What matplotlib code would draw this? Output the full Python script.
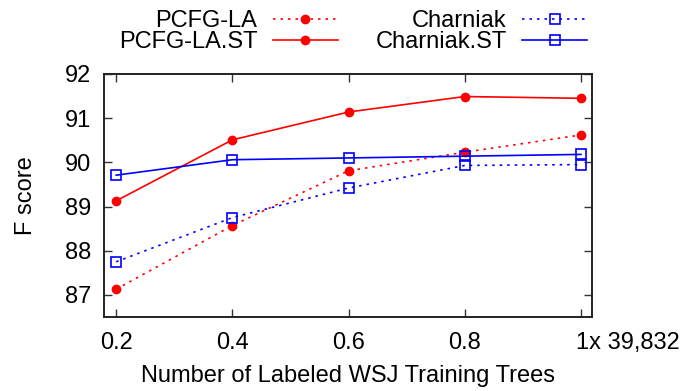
import matplotlib
matplotlib.use('Agg')
import matplotlib.pyplot as plt
import matplotlib.transforms as mtransforms

plt.rcParams['font.family'] = ['Liberation Sans', 'DejaVu Sans']

fraction = [0.2, 0.4, 0.6, 0.8, 1.0]
pcfg_la = [87.13, 88.57, 89.81, 90.23, 90.62]
pcfg_la_st = [89.13, 90.51, 91.14, 91.49, 91.45]
charniak = [87.75, 88.75, 89.42, 89.93, 89.95]
charniak_st = [89.71, 90.06, 90.10, 90.14, 90.18]
xtick_labels = ['0.2', '0.4', '0.6', '0.8', '1x 39,832']
yticks = [87, 88, 89, 90, 91, 92]

fs = 17

fig = plt.figure(figsize=(6.84, 3.91), dpi=100)
ax = fig.add_axes([104 / 684, 1 - 317 / 391, 488 / 684, 243 / 391])

dot = (0, (1.5, 3))
ax.plot(fraction, pcfg_la, color='red', ls=dot, lw=1.2, marker='o', ms=6,
        label='PCFG-LA')
ax.plot(fraction, pcfg_la_st, color='red', ls='-', lw=1.2, marker='o', ms=6,
        label='PCFG-LA.ST')
ax.plot(fraction, charniak, color='blue', ls=dot, lw=1.2, marker='s', ms=6.5,
        mfc='none', mew=1.2, label='Charniak')
ax.plot(fraction, charniak_st, color='blue', ls='-', lw=1.2, marker='s', ms=6.5,
        mfc='none', mew=1.2, label='Charniak.ST')

ax.set_xlim(0.179, 1.019)
ax.set_ylim(86.5, 92.0)
ax.set_xticks(fraction)
ax.set_xticklabels(xtick_labels)
ax.set_yticks(yticks)
ax.tick_params(direction='in', length=6, width=1, labelsize=fs,
               top=True, right=True, colors='#333333', labelcolor='black')
ax.tick_params(axis='x', pad=11)
ax.tick_params(axis='y', pad=9)
for s in ax.spines.values():
    s.set_linewidth(1.4)
    s.set_color('#222222')

# keep the "1" of the last label under its tick
last = ax.get_xticklabels()[-1]
last.set_ha('left')
last.set_transform(last.get_transform() +
                   mtransforms.ScaledTranslation(-5 / 100, 0, fig.dpi_scale_trans))

ax.set_xlabel('Number of Labeled WSJ Training Trees', fontsize=fs, labelpad=8)
ax.set_ylabel('F score', fontsize=fs, labelpad=20)

fig.legend(loc='upper right', bbox_to_anchor=(600 / 684, 1.0 + 3 / 391), ncol=2,
           markerfirst=False, frameon=False, fontsize=fs, borderpad=0.05,
           handlelength=2.75, handletextpad=0.65, columnspacing=1.6,
           labelspacing=-0.05)

fig.savefig('out.png', dpi=100)
